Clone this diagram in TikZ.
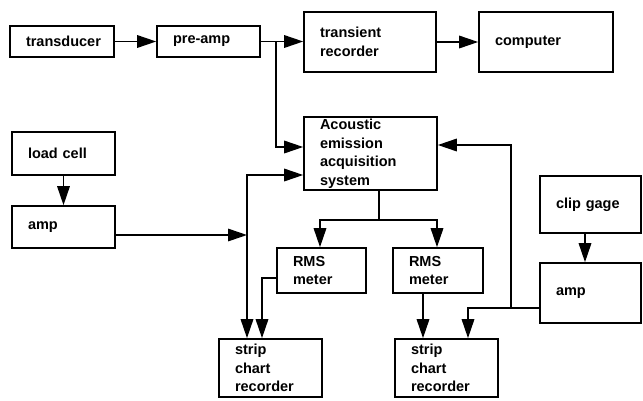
\documentclass[tikz,border=0pt]{standalone}
\usepackage{fontspec}
\setmainfont{Liberation Sans}
\usetikzlibrary{arrows.meta}
\tikzset{
  box/.style={draw, line width=1.6pt, rectangle, align=left, inner xsep=16pt, inner ysep=2pt,
    font=\fontsize{14.5}{18.5}\selectfont\bfseries},
  arr/.style={line width=1.6pt, -{Triangle[length=19pt,width=12.5pt]}},
  arrb/.style={line width=1.6pt, {Triangle[length=19pt,width=12.5pt]}-{Triangle[length=19pt,width=12.5pt]}},
  ln/.style={line width=1.6pt}
}
\begin{document}
\begin{tikzpicture}[x=1pt,y=-1pt]
\useasboundingbox[fill=white] (0,0) rectangle (643,400);
% boxes
\node[box, text width=72pt, minimum height=31pt] (transducer) at (62,41.5) {transducer};
\node[box, text width=71pt, minimum height=31pt] (preamp) at (208.5,41.5) {pre-amp};
\node[box, text width=100pt, minimum height=60pt] (transient) at (370,42) {transient\\recorder};
\node[box, text width=102pt, minimum height=60pt] (computer) at (546,42) {computer\\[14pt]};
\node[box, text width=101pt, minimum height=73pt] (acoustic) at (370.5,153.5) {Acoustic\\emission\\acquisition\\system};
\node[box, text width=71pt, minimum height=43pt] (loadcell) at (63.5,153.5) {load cell};
\node[box, text width=71pt, minimum height=42pt] (amp1) at (63.5,227) {amp};
\node[box, text width=57pt, minimum height=45pt] (rms1) at (321.5,270.5) {RMS\\meter};
\node[box, text width=58pt, minimum height=45pt] (rms2) at (438,270.5) {RMS\\meter};
\node[box, text width=71pt, minimum height=58pt] (strip1) at (270.5,368) {strip\\chart\\recorder};
\node[box, text width=71pt, minimum height=58pt] (strip2) at (446.5,368) {strip\\chart\\recorder};
\node[box, text width=69pt, minimum height=57pt] (clip) at (590.5,204.5) {clip gage};
\node[box, text width=69pt, minimum height=60pt] (amp2) at (590.5,293) {amp};
% junctions
\coordinate (j1) at (276,41.5);
\coordinate (j2) at (379,220);
\coordinate (j3) at (511,308);
% connectors
\draw[arr] (transducer) -- (preamp);
\draw[arr] (preamp.east) -- (preamp.east -| transient.west);
\draw[arr] (transient.east |- 0,42) -- (computer.west |- 0,42);
\draw[arr] (j1) |- (acoustic.west |- 0,147);
\draw[arr] (loadcell.south -| 63.5,0) -- (amp1.north -| 63.5,0);
\draw[arr] (amp1.east |- 0,235) -- (247,235);
\draw[arrb] (acoustic.west |- 0,175) -| (247,0 |- strip1.north);
\draw[ln] (j2 |- acoustic.south) -- (j2);
\draw[arr] (j2) -| (320,0 |- rms1.north);
\draw[arr] (j2) -| (437,0 |- rms2.north);
\draw[arr] (rms1.west |- 0,278) -| (262,0 |- strip1.north);
\draw[arr] (423,0 |- rms2.south) -- (423,0 |- strip2.north);
\draw[arr] (amp2.west |- j3) -| (468,0 |- strip2.north);
\draw[arr] (j3) |- (acoustic.east |- 0,145);
\draw[arr] (585,0 |- clip.south) -- (585,0 |- amp2.north);
\end{tikzpicture}
\end{document}
